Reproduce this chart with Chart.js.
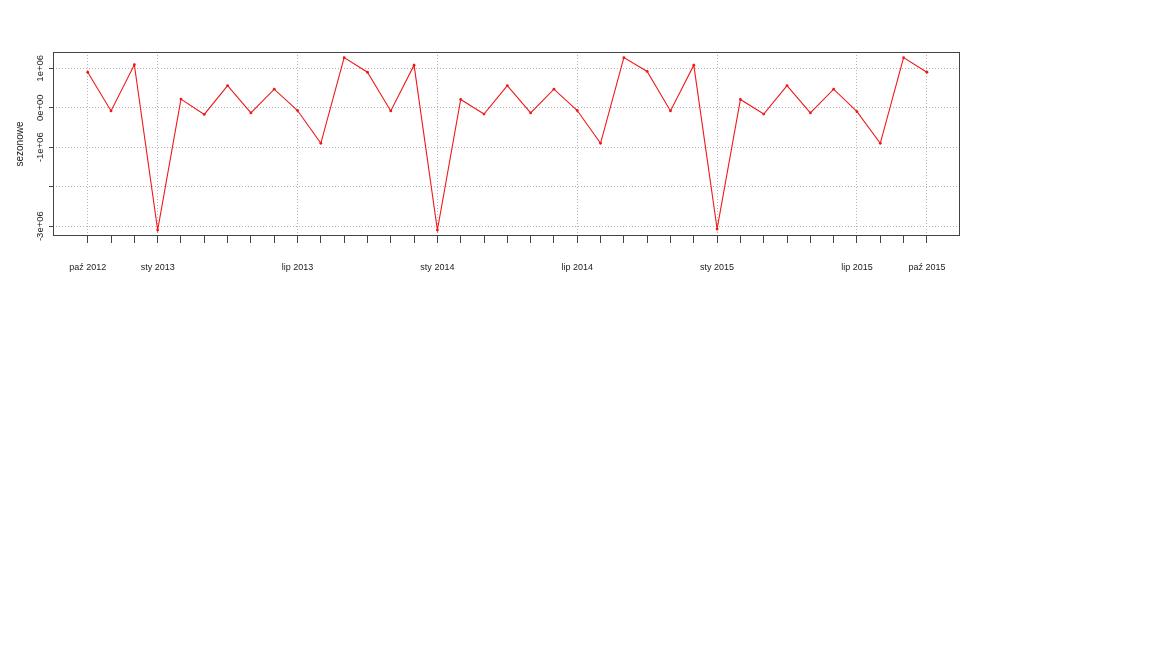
<!DOCTYPE html>
<html>
<head>
<meta charset="utf-8">
<script src="https://cdn.jsdelivr.net/npm/chart.js@4/dist/chart.umd.min.js"></script>
<style>
    body { margin: 0; background: #fff; }
    #wrap { width: 1152px; height: 648px; position: relative; }
</style>
</head>
<body>
<div id="wrap"><canvas id="sezonChart"></canvas></div>
<script>
// Dane: składnik sezonowy, miesiące od paź 2012 do paź 2015
const sezonowe = [
    900000, -80000, 1090000,
    -3100000, 220000, -170000, 560000, -130000, 470000, -70000, -900000, 1270000, 900000, -80000, 1080000,
    -3100000, 210000, -160000, 560000, -130000, 470000, -70000, -900000, 1270000, 920000, -80000, 1080000,
    -3070000, 210000, -160000, 560000, -130000, 470000, -100000, -900000, 1270000, 900000
];

// Etykiety osi X (indeks miesiąca -> tekst)
const xLabelIdx = [0, 3, 9, 15, 21, 27, 33, 36];
const xLabels = ['paź 2012', 'sty 2013', 'lip 2013', 'sty 2014', 'lip 2014', 'sty 2015', 'lip 2015', 'paź 2015'];

// Oś Y
const yTicks = [-3000000, -2000000, -1000000, 0, 1000000];
const yTickLabels = ['-3e+06', '', '-1e+06', '0e+00', '1e+06'];

const FONT = "'Liberation Sans', Arial, sans-serif";
const GRID = '#b4b4b4';
const AXIS = '#444';

// Ramka wykresu i pionowe etykiety osi Y (jak w R)
const ramka = {
    id: 'ramka',
    afterDraw(chart) {
        const { ctx, chartArea: a, scales: { y } } = chart;
        ctx.save();
        ctx.strokeStyle = AXIS;
        ctx.lineWidth = 1;
        ctx.strokeRect(Math.round(a.left) + 0.5, Math.round(a.top) + 0.5,
            Math.round(a.right - a.left) - 1, Math.round(a.bottom - a.top) - 1);

        ctx.fillStyle = '#222';
        ctx.font = '9.5px ' + FONT;
        ctx.textAlign = 'center';
        ctx.textBaseline = 'middle';
        yTicks.forEach(function(v, i) {
            if (!yTickLabels[i]) return;
            ctx.save();
            ctx.translate(a.left - 13, y.getPixelForValue(v));
            ctx.rotate(-Math.PI / 2);
            ctx.fillText(yTickLabels[i], 0, 0);
            ctx.restore();
        });
        ctx.restore();
    }
};

const chart = new Chart(document.getElementById('sezonChart'), {
    type: 'line',
    data: {
        datasets: [{
            label: 'sezonowe',
            data: sezonowe.map((v, i) => ({ x: i, y: v })),
            borderColor: '#f01818',
            backgroundColor: '#f01818',
            borderWidth: 1.1,
            pointRadius: 1.4,
            pointBorderWidth: 0,
            tension: 0
        }]
    },
    options: {
        responsive: true,
        maintainAspectRatio: false,
        animation: false,
        layout: { padding: { left: 0, top: 52, right: 192, bottom: 372 } },
        plugins: {
            legend: { display: false },
            tooltip: { enabled: false }
        },
        scales: {
            x: {
                type: 'linear',
                min: -1.49,
                max: 37.42,
                afterBuildTicks: function(scale) {
                    scale.ticks = sezonowe.map((_, i) => ({ value: i }));
                },
                afterFit: function(scale) { scale.height = 40; },
                grid: {
                    color: ctx => (ctx.tick && xLabelIdx.includes(ctx.tick.value)) ? GRID : 'rgba(0,0,0,0)',
                    tickColor: AXIS,
                    tickLength: 7,
                    tickBorderDash: []
                },
                border: { display: false, dash: [1, 2] },
                ticks: {
                    autoSkip: false,
                    maxRotation: 0,
                    padding: 19,
                    color: '#222',
                    font: { family: FONT, size: 9 },
                    callback: function(value) {
                        const k = xLabelIdx.indexOf(value);
                        return k >= 0 ? xLabels[k] : '';
                    }
                }
            },
            y: {
                min: -3250000,
                max: 1413000,
                afterBuildTicks: function(scale) {
                    scale.ticks = yTicks.map(v => ({ value: v }));
                },
                afterFit: function(scale) { scale.width = 53; },
                grid: {
                    color: GRID,
                    tickColor: AXIS,
                    tickLength: 4,
                    tickBorderDash: []
                },
                border: { display: false, dash: [1, 2] },
                ticks: { display: false },
                title: {
                    display: true,
                    text: 'sezonowe',
                    color: '#222',
                    font: { family: FONT, size: 10 },
                    padding: { top: 14, bottom: 0 }
                }
            }
        }
    },
    plugins: [ramka]
});
</script>
</body>
</html>
